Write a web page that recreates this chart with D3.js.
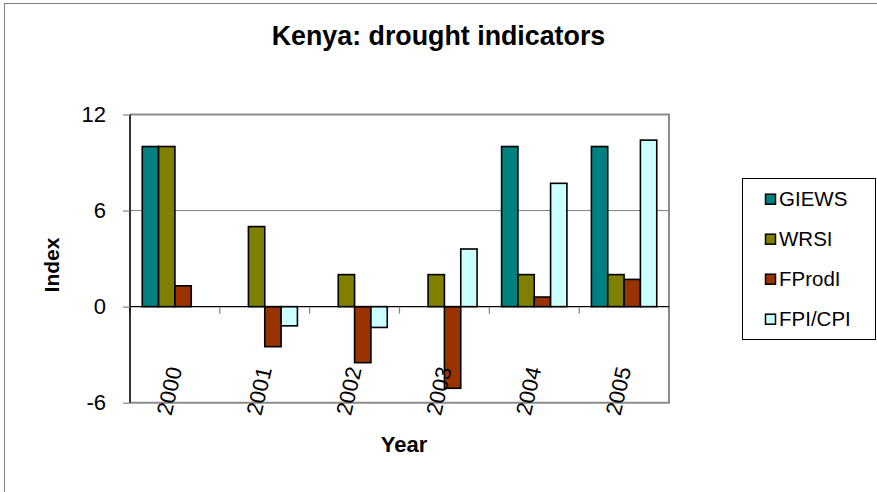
<!DOCTYPE html>
<html>
<head>
<meta charset="utf-8">
<script src="https://cdn.jsdelivr.net/npm/d3@7"></script>
<style>
  html, body { margin: 0; padding: 0; background: #fff; }
  svg { display: block; font-family: "Liberation Sans", Arial, sans-serif; }
</style>
</head>
<body>
<svg id="chart" width="877" height="492"></svg>
<script>
const years = ["2000", "2001", "2002", "2003", "2004", "2005"];
const seriesNames = ["GIEWS", "WRSI", "FProdI", "FPI/CPI"];
const giews  = [10, null, null, null, 10, 10];
const wrsi   = [10, 5, 2, 2, 2, 2];
const fprodi = [1.3, -2.5, -3.5, -5.1, 0.6, 1.7];
const fpicpi = [null, -1.2, -1.3, 3.6, 7.7, 10.4];
const yTicks = [-6, 0, 6, 12];
const colors = ["#008080", "#808000", "#993300", "#CCFFFF"];

const seriesValues = [giews, wrsi, fprodi, fpicpi];
const svg = d3.select("#chart");

const L = 130, R = 669, T = 114.5, B = 402.7;

// outer chart border
svg.append("rect").attr("x", 4.5).attr("y", 3.5).attr("width", 900).attr("height", 600)
  .attr("fill", "none").attr("stroke", "#808080").attr("stroke-width", 1);

const x = d3.scaleBand().domain(years).range([L, R]).paddingInner(0).paddingOuter(0);
const y = d3.scaleLinear().domain([-6, 12]).range([B, T]);
const bw = x.bandwidth() / (seriesNames.length + 1.5);
const x1 = d3.scaleBand().domain(seriesNames).range([0.75 * bw, 0.75 * bw + bw * seriesNames.length]);

// gridlines
svg.append("g").selectAll("line").data(yTicks.filter(d => d !== 0 && d !== -6)).join("line")
  .attr("x1", L).attr("x2", R).attr("y1", d => y(d)).attr("y2", d => y(d))
  .attr("stroke", "#808080").attr("stroke-width", 1);

// plot border (top, right, bottom)
svg.append("path")
  .attr("d", `M${L},${y(12)}H${R}V${y(-6)}H${L}`)
  .attr("fill", "none").attr("stroke", "#8c8c8c").attr("stroke-width", 2);

// bars
const data = [];
years.forEach((yr, i) => seriesNames.forEach((s, j) => {
  const v = seriesValues[j][i];
  if (v !== null) data.push({ yr, s, v, c: colors[j] });
}));
svg.append("g").selectAll("rect").data(data).join("rect")
  .attr("x", d => x(d.yr) + x1(d.s))
  .attr("width", x1.bandwidth())
  .attr("y", d => y(Math.max(0, d.v)))
  .attr("height", d => Math.abs(y(d.v) - y(0)))
  .attr("fill", d => d.c)
  .attr("stroke", "#000").attr("stroke-width", 1.6);

// zero line with category tick marks
const xAxis = svg.append("g").attr("transform", `translate(0,${y(0)})`);
xAxis.append("line").attr("x1", L).attr("x2", R).attr("stroke", "#000").attr("stroke-width", 1.2);
xAxis.selectAll("line.tk").data(years.map(d => x(d)).concat([R])).join("line")
  .attr("class", "tk").attr("x1", d => d).attr("x2", d => d).attr("y1", 0).attr("y2", 7)
  .attr("stroke", "#808080").attr("stroke-width", 1.2);

// y axis
const yAxis = svg.append("g").attr("transform", `translate(${L},0)`)
  .call(d3.axisLeft(y).tickValues(yTicks).tickSize(7).tickPadding(17).tickFormat(d => String(d)));
yAxis.select(".domain").attr("stroke", "#000").attr("stroke-width", 1.6).attr("d", `M0,${y(12)}V${y(-6)}`);
yAxis.selectAll(".tick line").attr("stroke", "#808080").attr("stroke-width", 1.2);
yAxis.selectAll(".tick text").attr("font-size", 22).attr("fill", "#000")
  .attr("font-family", "Liberation Sans, Arial, sans-serif");

// x labels rotated
svg.append("g").selectAll("text").data(years).join("text")
  .attr("transform", d => `translate(${x(d) + x.bandwidth() / 2 - 6},391) rotate(-77)`)
  .attr("text-anchor", "middle").attr("dy", "0.36em")
  .attr("font-size", 22).text(d => d);

// titles
svg.append("text").attr("x", 438.5).attr("y", 45).attr("text-anchor", "middle")
  .attr("font-size", 26.8).attr("font-weight", "bold").text("Kenya: drought indicators");
svg.append("text").attr("x", 404).attr("y", 451.5).attr("text-anchor", "middle")
  .attr("font-size", 22).attr("font-weight", "bold").text("Year");
svg.append("text").attr("transform", "translate(59,265) rotate(-90)").attr("text-anchor", "middle")
  .attr("font-size", 21).attr("font-weight", "bold").text("Index");

// legend
const lg = svg.append("g");
lg.append("rect").attr("x", 742.5).attr("y", 178.5).attr("width", 133).attr("height", 161)
  .attr("fill", "#fff").attr("stroke", "#000").attr("stroke-width", 1);
const items = lg.selectAll("g.it").data(seriesNames).join("g").attr("class", "it")
  .attr("transform", (d, i) => `translate(0,${205.7 + i * 40})`);
items.append("rect").attr("x", 765.5).attr("y", -11.5).attr("width", 10).attr("height", 10)
  .attr("fill", (d, i) => colors[i]).attr("stroke", "#000").attr("stroke-width", 1.5);
items.append("text").attr("x", 779).attr("y", 0).attr("font-size", 20.5).text(d => d);
</script>
</body>
</html>
